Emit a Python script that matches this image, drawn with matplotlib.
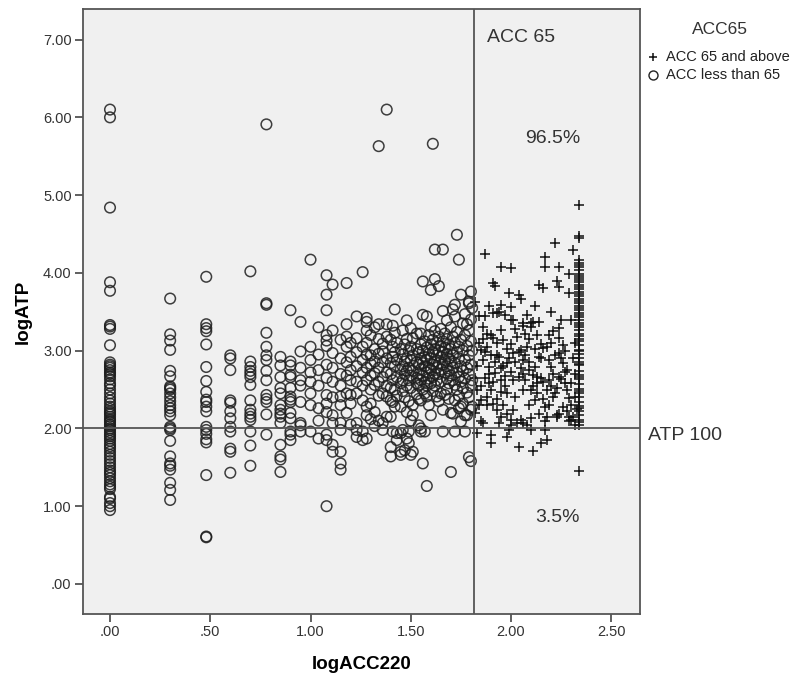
import numpy as np
import matplotlib
matplotlib.use("Agg")
import matplotlib.pyplot as plt
from matplotlib.lines import Line2D

plt.rcParams['font.family'] = ['Liberation Sans', 'DejaVu Sans']

# --- datos (logACC220 / logATP) ---
# ACC menor que 65 (circulos): columnas de x con sus valores de y
circ_cols = [0.00, 0.30, 0.48, 0.60, 0.70, 0.78, 0.85, 0.90, 0.95]
circ_col_y = [
    [6.10, 6.00, 4.84, 3.88, 3.77, 3.33, 3.31, 3.28, 3.07, 2.85, 2.82, 2.80, 2.78, 2.75,
     2.72, 2.70, 2.67, 2.63, 2.58, 2.55, 2.50, 2.45, 2.40, 2.36, 2.32, 2.28, 2.25, 2.22,
     2.20, 2.18, 2.15, 2.12, 2.10, 2.08, 2.05, 2.03, 2.00, 1.98, 1.95, 1.92, 1.90, 1.87,
     1.84, 1.80, 1.77, 1.74, 1.70, 1.66, 1.62, 1.58, 1.54, 1.50, 1.46, 1.43, 1.40, 1.36,
     1.32, 1.28, 1.25, 1.22, 1.12, 1.10, 1.04, 1.00, 0.95],
    [3.67, 3.21, 3.13, 3.01, 2.74, 2.67, 2.54, 2.52, 2.50, 2.45, 2.40, 2.35, 2.30, 2.26,
     2.22, 2.17, 2.02, 2.00, 1.98, 1.84, 1.64, 1.55, 1.52, 1.47, 1.30, 1.21, 1.08],
    [3.95, 3.34, 3.29, 3.25, 3.08, 2.79, 2.61, 2.47, 2.37, 2.34, 2.28, 2.22, 2.02, 1.98,
     1.93, 1.86, 1.82, 1.40, 0.61, 0.60],
    [2.94, 2.90, 2.75, 2.36, 2.33, 2.22, 2.13, 2.02, 1.96, 1.74, 1.70, 1.43],
    [4.02, 2.86, 2.79, 2.74, 2.70, 2.66, 2.56, 2.36, 2.24, 2.19, 2.15, 2.11, 1.96, 1.78, 1.52],
    [5.91, 3.61, 3.59, 3.23, 3.05, 2.94, 2.88, 2.74, 2.62, 2.43, 2.38, 2.34, 2.18, 1.92],
    [2.92, 2.81, 2.66, 2.52, 2.45, 2.30, 2.24, 2.19, 2.15, 2.07, 1.79, 1.64, 1.60, 1.44],
    [3.52, 2.86, 2.81, 2.69, 2.66, 2.52, 2.41, 2.37, 2.34, 2.20, 2.13, 1.96, 1.92, 1.85],
    [3.37, 2.99, 2.78, 2.62, 2.55, 2.34, 2.07, 2.04, 1.96],
]

mid_cols = [1.00, 1.04, 1.08, 1.11, 1.15, 1.18, 1.20, 1.23, 1.26, 1.28, 1.30, 1.32, 1.34,
            1.36, 1.38, 1.40, 1.41, 1.42, 1.43, 1.45, 1.46, 1.47, 1.48, 1.49, 1.50, 1.51,
            1.53, 1.54, 1.55, 1.56, 1.57, 1.58, 1.59, 1.60, 1.61, 1.62, 1.63, 1.64, 1.65,
            1.66, 1.67, 1.68, 1.69, 1.70, 1.71, 1.72, 1.73, 1.74, 1.75, 1.76, 1.77, 1.78,
            1.79, 1.80, 1.806]
mid_col_y = [
    [4.17, 3.05, 2.88, 2.72, 2.60, 2.45, 2.30, 1.96],
    [3.30, 2.95, 2.75, 2.55, 2.26, 2.10, 1.87],
    [3.97, 3.72, 3.52, 3.20, 3.13, 3.06, 2.82, 2.65, 2.43, 2.32, 2.21, 1.92, 1.85, 1.00],
    [3.85, 3.26, 2.97, 2.78, 2.60, 2.40, 2.17, 2.07, 1.79, 1.70],
    [3.14, 2.90, 2.70, 2.55, 2.41, 2.30, 2.07, 1.98, 1.70, 1.55, 1.47],
    [3.87, 3.34, 3.18, 3.05, 2.85, 2.68, 2.45, 2.20],
    [3.10, 2.92, 2.75, 2.62, 2.43, 2.32, 2.05],
    [3.44, 3.16, 2.98, 2.80, 2.60, 2.45, 2.07, 1.98, 1.89],
    [4.01, 3.05, 2.88, 2.72, 2.55, 2.36, 1.96, 1.85],
    [3.42, 3.37, 3.26, 3.10, 2.95, 2.78, 2.62, 2.28, 2.17, 1.87],
    [3.20, 2.94, 2.83, 2.68, 2.50, 2.32, 2.12],
    [3.30, 3.02, 2.86, 2.71, 2.56, 2.21, 2.03],
    [5.63, 3.34, 3.15, 2.96, 2.78, 2.60, 2.42, 2.10],
    [3.09, 2.99, 2.85, 2.66, 2.45, 2.07, 1.98],
    [6.10, 3.34, 3.18, 2.90, 2.72, 2.55, 2.41, 2.15],
    [3.14, 2.84, 2.70, 2.52, 2.36, 2.15, 1.76, 1.64],
    [3.32, 3.05, 2.92, 2.62, 2.34, 1.96],
    [3.53, 3.23, 2.98, 2.80, 2.50, 2.28],
    [3.10, 2.88, 2.66, 2.42, 1.94, 1.85],
    [3.02, 2.76, 2.58, 2.28, 1.94, 1.70, 1.66],
    [3.26, 2.95, 2.80, 2.62, 2.48, 1.98],
    [3.08, 2.86, 2.70, 2.40, 1.72],
    [3.39, 3.15, 2.90, 2.74, 2.55, 2.21, 1.87],
    [3.00, 2.78, 2.62, 2.35, 1.96, 1.81],
    [3.29, 3.05, 2.88, 2.68, 2.52, 2.10, 1.66],
    [3.16, 2.94, 2.74, 2.30, 2.17, 1.70],
    [3.22, 3.02, 2.85, 2.65, 2.58, 2.44],
    [2.98, 2.82, 2.70, 2.55, 2.38, 2.04],
    [3.22, 3.08, 2.90, 2.76, 2.62, 2.36, 2.00, 1.96],
    [3.89, 3.46, 3.00, 2.84, 2.68, 2.50, 1.55],
    [3.12, 2.92, 2.80, 2.60, 2.45, 1.96],
    [3.44, 3.04, 2.88, 2.72, 2.55, 2.41, 1.26],
    [3.20, 2.96, 2.78, 2.64, 2.30],
    [3.78, 3.31, 3.08, 2.90, 2.75, 2.58, 2.17],
    [5.66, 3.14, 2.98, 2.82, 2.66, 2.48],
    [4.30, 3.92, 3.25, 3.02, 2.86, 2.70, 2.55],
    [3.10, 2.94, 2.78, 2.62, 2.41],
    [3.83, 3.18, 3.00, 2.84, 2.70, 2.35],
    [3.28, 3.06, 2.92, 2.76, 2.60, 2.45],
    [4.30, 3.51, 3.12, 2.98, 2.82, 2.24, 1.96],
    [3.22, 3.04, 2.88, 2.72, 2.43],
    [3.39, 3.15, 2.96, 2.80, 2.64, 2.50],
    [3.08, 2.90, 2.74, 2.58, 2.38],
    [3.30, 3.02, 2.86, 2.68, 2.20, 1.44],
    [3.53, 3.18, 2.94, 2.78, 2.62, 2.19],
    [3.59, 3.44, 3.10, 2.84, 2.56, 2.36, 1.96],
    [4.49, 3.24, 2.98, 2.72, 2.50],
    [4.17, 3.05, 2.90, 2.66, 2.42, 2.26],
    [3.72, 3.14, 2.80, 2.60, 2.28, 2.09],
    [3.35, 3.00, 2.74, 2.52, 2.32],
    [3.47, 3.20, 2.88, 2.64, 2.17, 1.96],
    [3.34, 3.06, 2.78, 2.46, 2.17],
    [3.63, 3.61, 3.26, 2.94, 2.70, 2.40, 1.63],
    [3.76, 3.40, 3.12, 2.82, 2.55, 2.24, 1.58],
    [3.55, 3.00, 2.62, 2.28],
]

# ACC 65 o mas (cruces)
cap_x = 2.34  # columna de ACC=220
cap_y = [4.87, 4.48, 4.45, 4.16, 4.13, 4.07, 4.04, 3.99, 3.96, 3.91, 3.88, 3.85, 3.79,
         3.76, 3.73, 3.67, 3.64, 3.61, 3.55, 3.52, 3.49, 3.43, 3.40, 3.36, 3.31, 3.27,
         3.22, 3.19, 3.12, 3.07, 3.01, 2.96, 2.91, 2.86, 2.81, 2.74, 2.69, 2.63, 2.57,
         2.51, 2.46, 2.41, 2.34, 2.29, 2.23, 2.17, 2.11, 2.05, 1.45,
         4.10, 3.94, 3.82, 3.70, 3.58, 3.46, 3.33, 3.15, 2.99, 2.83, 2.66, 2.48, 2.26, 2.08]
plus_x = [1.87, 1.95, 2.00, 2.17, 2.17, 2.22, 2.24, 2.29, 2.31, 1.91, 1.92, 2.14, 2.16,
          2.23, 2.24, 1.99, 2.04, 2.05, 2.29, 2.20, 2.12, 1.89, 1.91, 1.94, 1.95, 2.00,
          2.01, 2.08, 2.06, 2.10, 2.11, 2.24, 2.24, 2.26, 2.15, 2.16, 1.88, 1.90, 1.91,
          1.95, 1.96, 2.00, 2.01, 2.05, 2.08, 2.06, 2.12, 2.11, 2.14, 2.19, 2.20, 2.24,
          2.28, 2.25, 2.31, 1.85, 1.86, 1.89, 1.92, 1.95, 1.98, 2.00, 2.04, 2.07, 2.10,
          2.18, 2.23, 2.28, 1.85, 1.90, 1.95, 1.98, 1.87, 1.93, 1.97, 2.00, 2.06, 2.10,
          2.14, 2.09, 2.13, 2.20, 2.24, 2.29, 2.13, 2.17, 2.14, 2.10, 2.18, 2.23, 2.24,
          2.29, 2.31, 1.83, 1.85, 1.88, 1.91, 1.93, 1.95, 1.98, 2.01, 2.00, 2.03, 2.05,
          2.08, 1.83, 1.90, 1.90, 1.98, 1.99, 2.04, 2.11, 2.15, 2.18, 1.85, 1.86, 1.94,
          2.00, 2.06, 2.10, 2.17, 2.17, 2.23, 2.29, 2.30, 1.82, 1.84, 1.83, 1.82, 1.84,
          1.82, 1.86, 1.88, 1.90, 1.93, 1.94, 1.96, 1.98, 2.02, 2.03, 2.05, 2.07, 2.09,
          2.12, 2.13, 2.15, 2.16, 2.19, 2.20, 2.21, 2.22, 2.26, 2.27, 2.27, 2.30, 2.30,
          2.32, 2.32, 1.87, 1.89, 1.92, 1.97, 2.02, 2.06, 2.09, 2.12, 2.19, 2.21, 2.26,
          2.28, 1.88, 1.93, 1.96,
          1.84, 1.86, 1.87, 1.89, 1.91, 1.93, 1.95, 1.97, 1.99, 2.01, 2.02, 2.04, 2.06,
          2.07, 2.09, 2.11, 2.13, 2.15, 2.16, 2.18, 2.19, 2.21, 2.22, 2.25, 2.25, 2.27,
          2.30, 2.32, 2.33, 2.32]
plus_y = [4.24, 4.08, 4.06, 4.21, 4.08, 4.39, 4.08, 3.99, 4.29, 3.87, 3.83, 3.84, 3.80,
          3.89, 3.82, 3.74, 3.71, 3.67, 3.74, 3.50, 3.57, 3.57, 3.48, 3.50, 3.59, 3.56,
          3.39, 3.46, 3.32, 3.31, 3.37, 3.29, 3.16, 3.07, 3.09, 3.03, 3.22, 3.20, 3.16,
          3.26, 3.14, 3.09, 2.97, 3.01, 3.05, 2.88, 2.79, 2.69, 2.92, 2.88, 2.79, 2.97,
          2.75, 2.64, 2.90, 3.01, 2.88, 2.79, 2.71, 2.62, 2.84, 2.73, 2.66, 2.62, 2.49,
          2.49, 2.52, 2.49, 2.54, 2.49, 2.47, 2.45, 3.44, 3.48, 3.46, 3.39, 3.35, 3.35,
          3.37, 2.75, 2.66, 2.54, 2.66, 2.39, 2.45, 2.28, 2.19, 2.13, 2.15, 2.15, 2.19,
          2.15, 2.15, 2.49, 2.36, 2.41, 2.32, 2.24, 2.15, 2.19, 2.24, 2.11, 2.07, 2.11,
          2.04, 1.94, 1.92, 1.81, 1.89, 1.98, 1.76, 1.71, 1.81, 1.85, 2.09, 2.07, 2.07,
          2.04, 2.07, 1.98, 2.09, 1.98, 2.17, 2.09, 2.11, 3.63, 3.10, 2.80, 2.65, 2.30,
          2.20, 3.30, 3.05, 2.95, 3.10, 2.92, 2.80, 3.02, 2.85, 3.18, 2.78, 2.95, 3.15,
          3.02, 2.58, 2.65, 2.38, 3.20, 3.10, 2.70, 2.95, 2.84, 3.00, 2.58, 2.30, 3.40,
          2.70, 2.40, 2.65, 2.58, 2.85, 2.55, 2.40, 2.50, 2.30, 2.36, 2.30, 2.40, 2.28,
          2.22, 2.30, 2.38, 2.30,
          3.45, 3.15, 2.98, 2.70, 2.60, 2.95, 2.78, 2.68, 2.90, 2.62, 3.28, 2.98, 2.70,
          3.22, 2.85, 2.55, 3.20, 2.90, 2.60, 3.05, 2.62, 3.25, 2.46, 2.90, 3.40, 2.72,
          2.58, 3.10, 2.25, 2.05]

# tick labels al estilo SPSS
xticks = [0.0, 0.5, 1.0, 1.5, 2.0, 2.5]
xtick_labels = ['.00', '.50', '1.00', '1.50', '2.00', '2.50']
yticks = [0, 1, 2, 3, 4, 5, 6, 7]
ytick_labels = ['.00', '1.00', '2.00', '3.00', '4.00', '5.00', '6.00', '7.00']

acc65 = np.log10(65)
atp100 = 2.0

# --- armar los puntos ---
cx, cy = [], []
for xv, ys in zip(circ_cols + mid_cols, circ_col_y + mid_col_y):
    cx += [xv] * len(ys)
    cy += ys
px = plus_x + [cap_x] * len(cap_y)
py = plus_y + cap_y

fig = plt.figure(figsize=(7.94, 6.77), dpi=100)
ax = fig.add_axes([0.1042, 0.0931, 0.7018, 0.8932])
ax.set_facecolor('#f0f0f0')

ax.scatter(cx, cy, s=58, facecolors='none', edgecolors='#1e1e1e', linewidths=1.1, alpha=0.85, zorder=3)
ax.scatter(px, py, s=50, marker='+', color='#111111', linewidths=1.1, zorder=3)

ax.axvline(acc65, color='#555555', lw=1.3, zorder=4)
ax.axhline(atp100, color='#555555', lw=1.3, zorder=4)

ax.set_xlim(-0.136, 2.643)
ax.set_ylim(-0.386, 7.39)
ax.set_xticks(xticks, xtick_labels)
ax.set_yticks(yticks, ytick_labels)
ax.tick_params(direction='out', length=6, width=1.2, color='#444444',
               labelsize=10.5, labelcolor='#333333', pad=2)
for sp in ax.spines.values():
    sp.set_color('#555555')
    sp.set_linewidth(1.3)

ax.set_xlabel('logACC220', fontsize=13.5, fontweight='bold', labelpad=12)
ax.set_ylabel('logATP', fontsize=13.5, fontweight='bold', labelpad=8)

# textos de los cuadrantes
ax.text(1.88, 7.03, 'ACC 65', fontsize=14, color='#333333', ha='left', va='center')
ax.text(2.21, 5.73, '96.5%', fontsize=14, color='#333333', ha='center', va='center')
ax.text(2.23, 0.85, '3.5%', fontsize=14, color='#333333', ha='center', va='center')
ax.text(1.014, 1.91, 'ATP 100', fontsize=14, color='#333333', ha='left', va='center',
        transform=ax.get_yaxis_transform(), clip_on=False)

# leyenda (a mano, en pixeles de la figura)
W, H = 794, 677
fig.text(720 / W, 1 - 29 / H, 'ACC65', fontsize=12.5, color='#333333', ha='center', va='center')
fig.add_artist(Line2D([653 / W], [1 - 57 / H], marker='+', ls='none', color='#111111',
                      markersize=6, markeredgewidth=1.1, transform=fig.transFigure))
fig.add_artist(Line2D([653 / W], [1 - 75 / H], marker='o', ls='none', markerfacecolor='none',
                      markeredgecolor='#222222', markersize=6.5, markeredgewidth=1.0,
                      transform=fig.transFigure))
fig.text(666 / W, 1 - 57 / H, 'ACC 65 and above', fontsize=10.5, color='#222222', ha='left', va='center')
fig.text(666 / W, 1 - 75 / H, 'ACC less than 65', fontsize=10.5, color='#222222', ha='left', va='center')

fig.savefig('out.png', dpi=100)
